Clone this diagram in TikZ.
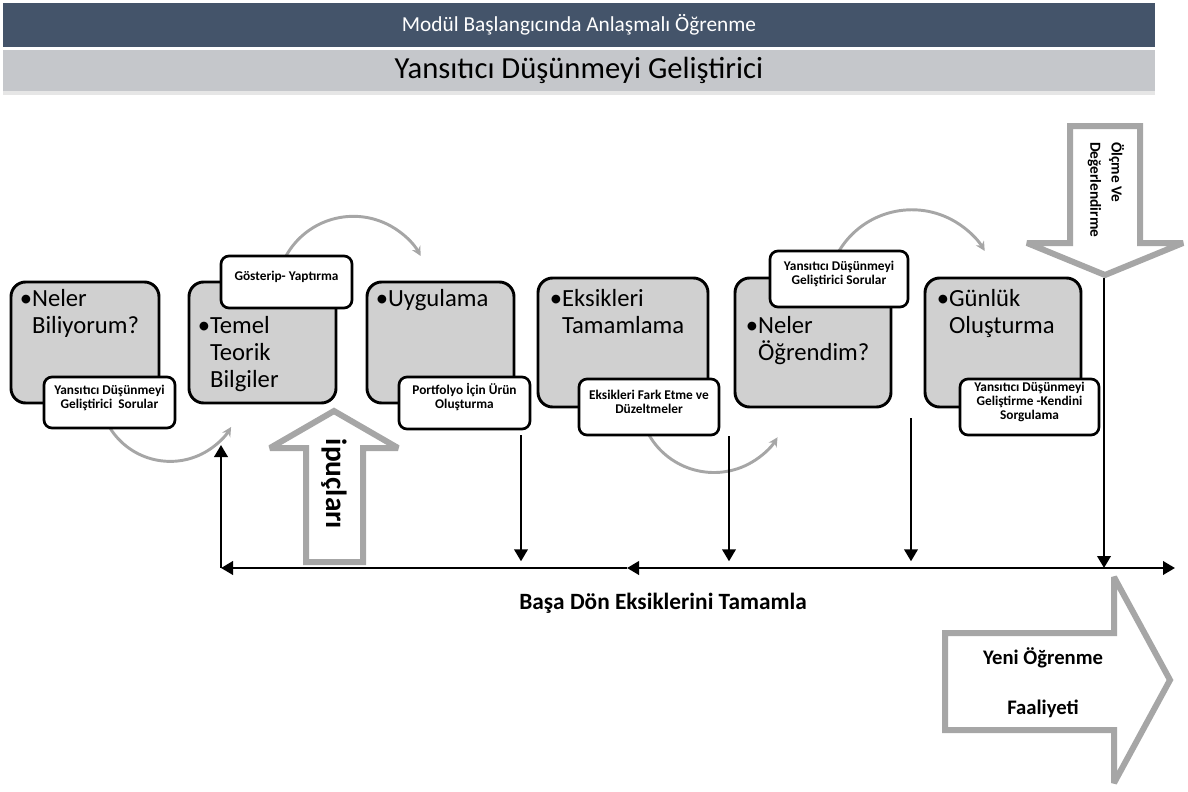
\documentclass[tikz,border=0pt]{standalone}
\usepackage{fontspec}
\setmainfont{Carlito}
\usetikzlibrary{arrows.meta,fit,shadows}
\definecolor{hdrdark}{HTML}{44546A}
\definecolor{hdrlight}{HTML}{C5C7CB}
\definecolor{boxgray}{HTML}{D0D0D0}
\definecolor{arrgray}{HTML}{A6A6A6}
\newcommand{\bulpad}{\phantom{•}}
\tikzset{
	band/.style={minimum width=864pt,inner sep=0pt},
	mainbox/.style={draw,line width=2.2pt,rounded corners=11pt,fill=boxgray,inner sep=0pt},
	maintext/.style={anchor=north west,align=left,inner sep=0pt,font=\fontsize{18.5}{20}\selectfont},
	notebox/.style={draw,line width=2pt,rounded corners=6pt,fill=white,align=center,inner sep=0pt,font=\bfseries\fontsize{10}{10.5}\selectfont},
	grayarc/.style={draw=arrgray,line width=2.2pt,-{Stealth[length=7pt,width=7pt]}},
	blockarrow/.style={draw=arrgray,line width=4.5pt,fill=white,line join=miter,miter limit=3},
	blk/.style={line width=2pt,->}
}
\begin{document}
\begin{tikzpicture}[x=0.75pt,y=-0.75pt,>={Triangle[length=9pt,width=10pt]}]
	\useasboundingbox (0,0) rectangle (1188,792);
	\node[band,fill=hdrdark,text=white,minimum height=33pt,font=\fontsize{16}{18}\selectfont] (head) at (579,25) {Modül Başlangıcında Anlaşmalı Öğrenme};
	\node[band,fill=hdrlight,minimum height=30.75pt,font=\fontsize{23}{25}\selectfont,drop shadow={opacity=0.2,shadow xshift=0pt,shadow yshift=-3pt}] (title) at (579,70.5) {Yansıtıcı Düşünmeyi Geliştirici};
	\draw[grayarc] (110,428) arc[start angle=148,end angle=31,radius=71];
	\draw[grayarc] (286,256) arc[start angle=-151,end angle=-29,radius=77];
	\draw[grayarc] (649,435) arc[start angle=150,end angle=32,radius=75];
	\draw[grayarc] (839,251) arc[start angle=-149,end angle=-31,radius=85];
	\node[mainbox,fit={(11,282) (159,403)}] (b1) {};
	\node[mainbox,fit={(189,282) (336,403)}] (b2) {};
	\node[mainbox,fit={(367,282) (514,403)}] (b3) {};
	\node[mainbox,fit={(538,278) (708,407)}] (b4) {};
	\node[mainbox,fit={(735,278) (891,407)}] (b5) {};
	\node[mainbox,fit={(925,278) (1081,407)}] (b6) {};
	\node[maintext] (t1) at ([shift={(10,9)}]b1.north west) {•Neler\\\bulpad Biliyorum?};
	\node[maintext] (t2) at ([shift={(10,36)}]b2.north west) {•Temel\\\bulpad Teorik\\\bulpad Bilgiler};
	\node[maintext] (t3) at ([shift={(10,9)}]b3.north west) {•Uygulama};
	\node[maintext] (t4) at ([shift={(13,13)}]b4.north west) {•Eksikleri\\\bulpad Tamamlama};
	\node[maintext] (t5) at ([shift={(12,40)}]b5.north west) {•Neler\\\bulpad Öğrendim?};
	\node[maintext] (t6) at ([shift={(13,13)}]b6.north west) {•Günlük\\\bulpad Oluşturma};
	\node[notebox,fit={(44,377) (175,428)}] (s1) {Yansıtıcı Düşünmeyi\\Geliştirici~~Sorular};
	\node[notebox,fit={(221,256) (352,308)}] (s2) {Gösterip- Yaptırma};
	\node[notebox,fit={(399,377) (530,429)}] (s3) {Portfolyo İçin Ürün\\Oluşturma};
	\node[notebox,fit={(579,379) (719,435)}] (s4) {Eksikleri Fark Etme ve\\Düzeltmeler};
	\node[notebox,fit={(770,251) (908,307)}] (s5) {Yansıtıcı Düşünmeyi\\Geliştirici Sorular};
	\node[notebox,fit={(960,379) (1099,435)}] (s6) {Yansıtıcı Düşünmeyi\\Geliştirme -Kendini\\Sorgulama};
	\draw[blockarrow] (306,562) -- (306,448) -- (270,448) -- (334,411) -- (398,448) -- (363,448) -- (363,562) -- cycle;
	\node[rotate=-90,font=\bfseries\fontsize{22}{25}\selectfont] (hint) at (334,484) {ipuçları};
	\draw[blockarrow] (1070,126) -- (1140,126) -- (1140,243) -- (1183,243) -- (1105,275) -- (1027,243) -- (1070,243) -- cycle;
	\node[rotate=-90,anchor=west,align=left,inner sep=0pt,font=\bfseries\fontsize{11.5}{16}\selectfont] (olc) at (1106,142) {Ölçme Ve\\Değerlendirme};
	\draw[blockarrow] (945,633) -- (1114,633) -- (1114,577) -- (1170,680) -- (1114,783) -- (1114,730) -- (945,730) -- cycle;
	\node[align=center,font=\bfseries\fontsize{15.5}{37.5}\selectfont] (yeni) at (1043,683) {Yeni Öğrenme\\Faaliyeti};
	\coordinate (lnL) at (221,568);
	\coordinate (lnM) at (627,568);
	\coordinate (lnR) at (1104,568);
	\coordinate (lnE) at (1175,568);
	\coordinate (upE) at (221,445);
	\coordinate (olctip) at (1104,278);
	\coordinate (dA) at (521,435);
	\coordinate (dB) at (729,436);
	\coordinate (dC) at (911,418);
	\draw[blk] (lnR) -- (lnM);
	\draw[blk] (lnM) -- (lnL);
	\draw[blk] (lnL) -- (upE);
	\draw[blk] (lnR) -- (lnE);
	\draw[blk] (olctip) -- (lnR);
	\draw[blk,shorten >=5pt] (dA) -- (dA |- lnL);
	\draw[blk,shorten >=5pt] (dB) -- (dB |- lnL);
	\draw[blk,shorten >=5pt] (dC) -- (dC |- lnL);
	\node[font=\bfseries\fontsize{17.5}{19}\selectfont] (basa) at (663,603) {Başa Dön Eksiklerini Tamamla};
\end{tikzpicture}
\end{document}
